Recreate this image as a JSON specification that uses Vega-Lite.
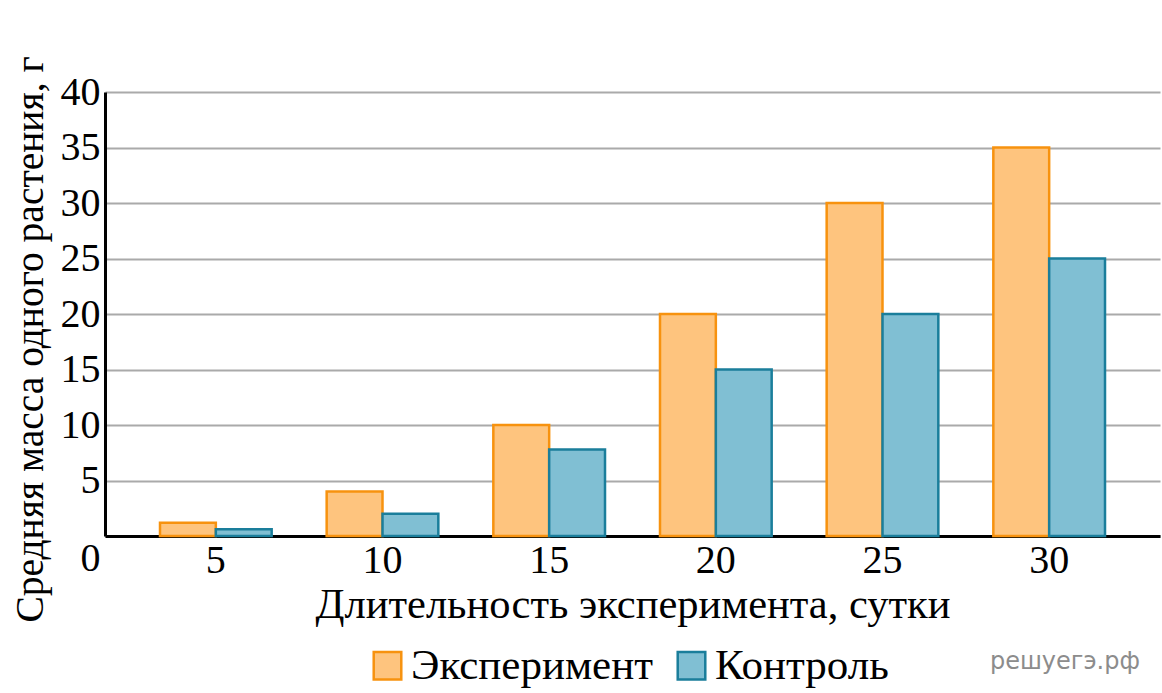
{
  "$schema": "https://vega.github.io/schema/vega-lite/v6.json",
  "width": 1055,
  "height": 444,
  "autosize": "none",
  "padding": {"left": 105, "top": 92, "right": 2, "bottom": 157},
  "background": "white",
  "config": {
    "font": "Liberation Serif",
    "view": {"stroke": null},
    "axis": {"labelFont": "Liberation Serif", "titleFont": "Liberation Serif", "labelColor": "black", "titleColor": "black", "titleFontWeight": "normal"}
  },
  "title": {
    "text": "решуегэ.рф",
    "orient": "bottom",
    "anchor": "end",
    "font": "DejaVu Sans",
    "fontSize": 24,
    "fontWeight": "normal",
    "color": "#8c8c8c",
    "offset": 0,
    "dy": -38,
    "dx": -20
  },
  "data": {
    "values": [
      {"day": 5, "group": "Эксперимент", "mass": 1.2},
      {"day": 5, "group": "Контроль", "mass": 0.6},
      {"day": 10, "group": "Эксперимент", "mass": 4},
      {"day": 10, "group": "Контроль", "mass": 2},
      {"day": 15, "group": "Эксперимент", "mass": 10},
      {"day": 15, "group": "Контроль", "mass": 7.8},
      {"day": 20, "group": "Эксперимент", "mass": 20},
      {"day": 20, "group": "Контроль", "mass": 15},
      {"day": 25, "group": "Эксперимент", "mass": 30},
      {"day": 25, "group": "Контроль", "mass": 20},
      {"day": 30, "group": "Эксперимент", "mass": 35},
      {"day": 30, "group": "Контроль", "mass": 25}
    ]
  },
  "mark": {"type": "bar", "strokeWidth": 2.5},
  "encoding": {
    "x": {
      "field": "day",
      "type": "ordinal",
      "scale": {"paddingInner": 0.33, "paddingOuter": 0.33},
      "axis": {
        "title": "Длительность эксперимента, сутки",
        "titleFontSize": 42.5,
        "titlePadding": 3,
        "labelFontSize": 40,
        "labelAngle": 0,
        "labelPadding": 4,
        "ticks": false,
        "domainColor": "black",
        "domainWidth": 3,
        "grid": false
      }
    },
    "xOffset": {"field": "group", "type": "nominal", "sort": ["Эксперимент", "Контроль"], "scale": {"paddingInner": 0, "paddingOuter": 0}},
    "y": {
      "field": "mass",
      "type": "quantitative",
      "scale": {"domain": [0, 40], "nice": false},
      "axis": {
        "title": "Средняя масса одного растения, г",
        "titleFontSize": 39.5,
        "titleX": -75,
        "titleY": 247,
        "titleAnchor": null,
        "titleBaseline": "middle",
        "labelFontSize": 40,
        "values": [0, 5, 10, 15, 20, 25, 30, 35, 40],
        "ticks": false,
        "labelPadding": 5,
        "labelBaseline": {"condition": {"test": "datum.value == 0", "value": "top"}, "value": "middle"},
        "labelOffset": {"condition": {"test": "datum.value == 0", "value": 2}, "value": 0},
        "domainColor": "black",
        "domainWidth": 3,
        "gridColor": "#aaaaaa",
        "gridWidth": 2
      }
    },
    "fill": {
      "field": "group",
      "type": "nominal",
      "sort": ["Эксперимент", "Контроль"],
      "scale": {"domain": ["Эксперимент", "Контроль"], "range": ["#fec47e", "#80bfd3"]},
      "legend": {
        "title": null,
        "orient": "none",
        "legendX": 261,
        "legendY": 552,
        "direction": "horizontal",
        "labelFont": "Liberation Serif",
        "labelFontSize": 43,
        "labelLimit": 0,
        "labelColor": "black",
        "symbolType": "square",
        "symbolSize": 760,
        "symbolStrokeWidth": 2.5,
        "symbolOpacity": 1,
        "columnPadding": 16,
        "labelOffset": 2
      }
    },
    "stroke": {
      "field": "group",
      "type": "nominal",
      "sort": ["Эксперимент", "Контроль"],
      "scale": {"domain": ["Эксперимент", "Контроль"], "range": ["#f7920f", "#1a7e9b"]},
      "legend": null
    }
  }
}
